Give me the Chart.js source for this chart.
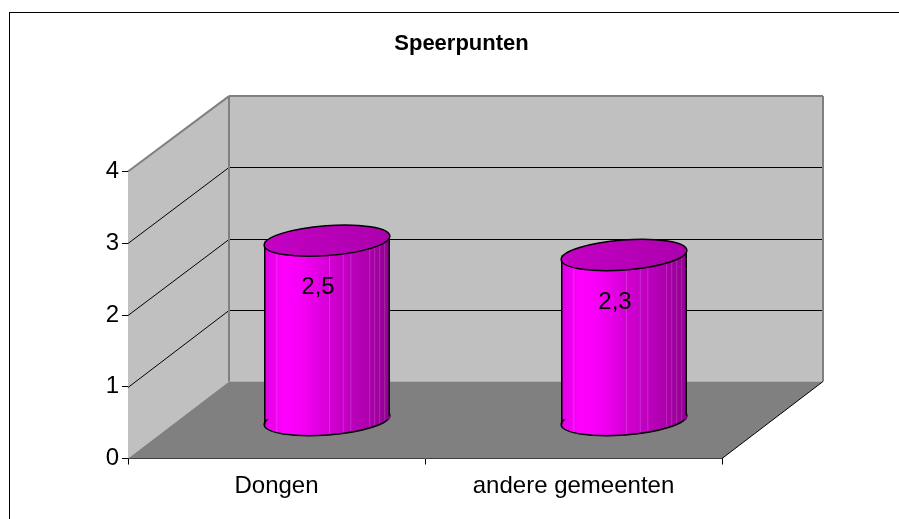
<!DOCTYPE html>
<html>
<head>
<meta charset="utf-8">
<style>
    html, body { margin: 0; padding: 0; background: #fff; }
    #wrap { width: 899px; height: 519px; overflow: hidden; }
</style>
<script src="https://cdn.jsdelivr.net/npm/chart.js@4/dist/chart.umd.min.js"></script>
</head>
<body>
<div id="wrap"><canvas id="myBarChart" width="899" height="519"></canvas></div>
<script>
const titulo = 'Speerpunten';
const categorias = ['Dongen', 'andere gemeenten'];
const valores = [2.5, 2.3];
const valorMax = 4;
const pasoEje = 1;

// 3D look: how far the back wall sits from the front plane
const fondoX = 101;
const fondoY = -77;
const anchoBarra = 125 / 296;
const elipseA = 63;
const elipseB = 15;
const elipseGiro = -0.075;
// faint seams on the cylinder, as a fraction of its width
const costuras = [0.1, 0.52, 0.63, 0.69, 0.84, 0.88, 0.92, 0.96];

function cara(ctx, puntos, color) {
    ctx.beginPath();
    puntos.forEach((p, i) => i ? ctx.lineTo(p[0], p[1]) : ctx.moveTo(p[0], p[1]));
    ctx.closePath();
    ctx.fillStyle = color;
    ctx.fill();
}

function linea(ctx, x1, y1, x2, y2, color, ancho) {
    ctx.beginPath();
    ctx.moveTo(x1, y1);
    ctx.lineTo(x2, y2);
    ctx.strokeStyle = color;
    ctx.lineWidth = ancho;
    ctx.stroke();
}

function gradienteBarra(ctx, centro, ancho) {
    const g = ctx.createLinearGradient(centro - ancho / 2, 0, centro + ancho / 2, 0);
    g.addColorStop(0, '#e000e0');
    g.addColorStop(0.16, '#ff00ff');
    g.addColorStop(0.3, '#f600f6');
    g.addColorStop(0.6, '#c800c8');
    g.addColorStop(0.85, '#aa00aa');
    g.addColorStop(1, '#900090');
    return g;
}

const marcoPlugin = {
    id: 'marco',
    beforeDraw(chart) {
        const ctx = chart.ctx;
        ctx.save();
        ctx.strokeStyle = '#000';
        ctx.lineWidth = 1;
        ctx.strokeRect(9.5, 12.5, 1000, 1000);
        ctx.restore();
    }
};

const tituloPlugin = {
    id: 'tituloPos',
    afterLayout(chart) {
        chart.titleBlock.left = 0;
        chart.titleBlock.right = 923;
    }
};

const paredesPlugin = {
    id: 'paredes',
    beforeDatasetsDraw(chart) {
        const { ctx, scales: { y }, chartArea: a } = chart;
        const y0 = y.getPixelForValue(0);
        const yMax = y.getPixelForValue(valorMax);
        const atras = v => y.getPixelForValue(v) + fondoY + v * 0.4;
        const bx1 = a.left + fondoX;
        const bx2 = a.right + fondoX;
        ctx.save();
        cara(ctx, [[bx1, atras(valorMax)], [bx2, atras(valorMax)], [bx2, atras(0)], [bx1, atras(0)]], '#c0c0c0');
        cara(ctx, [[a.left, yMax], [bx1, atras(valorMax)], [bx1, atras(0)], [a.left, y0]], '#c0c0c0');
        cara(ctx, [[a.left, y0], [a.right, y0], [bx2, atras(0)], [bx1, atras(0)]], '#808080');
        for (let v = pasoEje; v < valorMax; v += pasoEje) {
            const py = Math.round(y.getPixelForValue(v)) + 0.5;
            const pb = Math.round(atras(v)) + 0.5;
            linea(ctx, a.left, py, bx1, pb, '#000', 1);
            linea(ctx, bx1, pb, bx2, pb, '#000', 1);
        }
        linea(ctx, a.left, yMax, bx1, atras(valorMax), '#808080', 2);
        linea(ctx, bx1, atras(valorMax), bx2, atras(valorMax), '#808080', 2);
        linea(ctx, bx1, atras(valorMax), bx1, atras(0), '#808080', 2);
        linea(ctx, bx2, atras(valorMax), bx2, atras(0), '#808080', 2);
        linea(ctx, a.right, y0, bx2, atras(0), '#000', 1);
        ctx.restore();
    }
};

// the bars stay Chart.js bars: they are only shifted into the depth, and get their caps here
const cilindroPlugin = {
    id: 'cilindro',
    beforeDatasetDraw(chart) {
        const ctx = chart.ctx;
        const y0 = chart.scales.y.getPixelForValue(0);
        ctx.save();
        ctx.translate(fondoX / 2, fondoY / 2);
        chart.getDatasetMeta(0).data.forEach(barra => {
            ctx.beginPath();
            ctx.ellipse(barra.x, y0, elipseA, elipseB, elipseGiro, 0, Math.PI * 2);
            ctx.fillStyle = gradienteBarra(ctx, barra.x, barra.width);
            ctx.fill();
            ctx.strokeStyle = '#000';
            ctx.lineWidth = 1.5;
            ctx.stroke();
        });
    },
    afterDatasetDraw(chart) {
        const ctx = chart.ctx;
        const y0 = chart.scales.y.getPixelForValue(0);
        chart.getDatasetMeta(0).data.forEach(barra => {
            const izq = barra.x - barra.width / 2;
            const der = barra.x + barra.width / 2;
            costuras.forEach(f => {
                const borde = y0 + (0.5 - f) * 9.4 + elipseB * Math.sqrt(1 - Math.pow(2 * f - 1, 2)) - 1;
                linea(ctx, izq + f * barra.width, barra.y, izq + f * barra.width, borde, 'rgba(255,255,255,0.16)', 1);
            });
            linea(ctx, izq + 0.5, barra.y + 3.5, izq + 0.5, y0 + 4.5, '#000', 1.5);
            linea(ctx, der - 0.5, barra.y - 3.5, der - 0.5, y0 - 4.5, '#000', 1.5);

            const tapa = ctx.createLinearGradient(izq, 0, der, 0);
            tapa.addColorStop(0, '#c400c4');
            tapa.addColorStop(1, '#ac00ac');
            ctx.beginPath();
            ctx.ellipse(barra.x, barra.y, elipseA, elipseB, elipseGiro, 0, Math.PI * 2);
            ctx.fillStyle = tapa;
            ctx.fill();
            ctx.strokeStyle = '#000';
            ctx.lineWidth = 1.5;
            ctx.stroke();
        });
        ctx.restore();
    },
    afterDatasetsDraw(chart) {
        const ctx = chart.ctx;
        ctx.save();
        ctx.font = '24px "Liberation Sans"';
        ctx.fillStyle = '#000';
        ctx.textAlign = 'center';
        ctx.textBaseline = 'middle';
        chart.getDatasetMeta(0).data.forEach((barra, i) => {
            const texto = valores[i].toLocaleString('nl-NL');
            ctx.fillText(texto, barra.x + fondoX / 2 - 9, barra.y + fondoY / 2 + 47);
        });
        ctx.restore();
    }
};

function colorBarra(c) {
    const eje = c.chart.scales.x;
    if (!eje || !c.chart.chartArea) return '#ff00ff';
    const centro = eje.getPixelForValue(c.dataIndex);
    const ancho = (eje.width / categorias.length) * anchoBarra;
    return gradienteBarra(c.chart.ctx, centro, ancho);
}

const ctx = document.getElementById('myBarChart').getContext('2d');
const myChart = new Chart(ctx, {
    type: 'bar',
    data: {
        labels: categorias,
        datasets: [{
            label: titulo,
            data: valores,
            backgroundColor: colorBarra,
            borderWidth: 0,
            barPercentage: anchoBarra,
            categoryPercentage: 1,
            clip: false
        }]
    },
    options: {
        responsive: false,
        animation: false,
        layout: { padding: { left: 0, right: 177, top: 0, bottom: 0 } },
        plugins: {
            legend: { display: false },
            tooltip: { enabled: false },
            title: {
                display: true,
                text: titulo,
                color: '#000',
                font: { family: '"Liberation Sans"', size: 22, weight: 'bold', lineHeight: 1.2 },
                padding: { top: 31, bottom: 114.1 }
            }
        },
        scales: {
            x: {
                grid: { drawOnChartArea: false, color: '#000', tickLength: 6, offset: true },
                border: { color: '#000', width: 1 },
                ticks: { color: '#000', padding: 7, maxRotation: 0, font: { family: '"Liberation Sans"', size: 24 } },
                afterFit(scale) { scale.height = 60.5; }
            },
            y: {
                min: 0,
                max: valorMax,
                grid: { drawOnChartArea: false, color: '#000', tickLength: 6 },
                border: { color: '#000', width: 1 },
                ticks: { stepSize: pasoEje, color: '#000', padding: 3, font: { family: '"Liberation Sans"', size: 24 } },
                afterFit(scale) { scale.width = 128; }
            }
        }
    },
    plugins: [marcoPlugin, tituloPlugin, paredesPlugin, cilindroPlugin]
});
</script>
</body>
</html>
